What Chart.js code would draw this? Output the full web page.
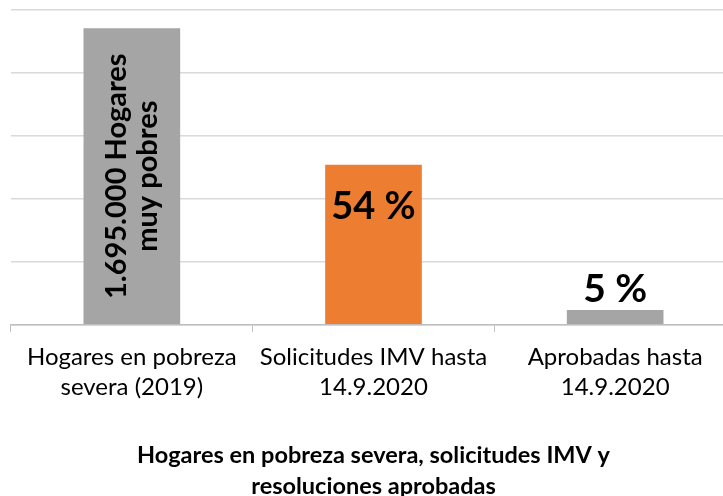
<!DOCTYPE html>
<html>
<head>
<meta charset="utf-8">
<script src="https://cdn.jsdelivr.net/npm/chart.js@4"></script>
<style>
  html, body { margin: 0; padding: 0; background: #fff; overflow: hidden; }
  #wrap { width: 740px; height: 496px; }
</style>
</head>
<body>
<div id="wrap"><canvas id="myChart"></canvas></div>
<script>
// chart data
const categories = [
  ['Hogares en pobreza', 'severa (2019)'],
  ['Solicitudes IMV hasta', '14.9.2020'],
  ['Aprobadas hasta', '14.9.2020']
];
const households = [1695000, 915000, 85000];
const barLabels = [['1.695.000 Hogares', 'muy pobres'], ['54 %'], ['5 %']];
const barColors = ['#a5a5a5', '#ed7d31', '#a5a5a5'];
const yMax = 1800000;
const yStep = 360000;
const titleLines = ['Hogares en pobreza severa, solicitudes IMV y', 'resoluciones aprobadas'];

const FONT = 'Lato, "Noto Sans", sans-serif';

// draws the text on / above the bars
const barText = {
  id: 'barText',
  afterDatasetsDraw(chart) {
    const ctx = chart.ctx;
    const meta = chart.getDatasetMeta(0);
    ctx.save();
    ctx.fillStyle = '#000';
    ctx.textAlign = 'center';
    ctx.textBaseline = 'middle';
    meta.data.forEach((bar, i) => {
      const lines = barLabels[i];
      if (i === 0) {
        ctx.save();
        ctx.translate(bar.x, (bar.y + bar.base) / 2);
        ctx.rotate(-Math.PI / 2);
        ctx.font = 'bold 29px ' + FONT;
        ctx.fillText(lines[0], 0, -15.5);
        ctx.fillText(lines[1], 0, 15.5);
        ctx.restore();
      } else if (i === 1) {
        ctx.font = 'bold 38px ' + FONT;
        ctx.fillText(lines[0], bar.x, bar.y + 42);
      } else {
        ctx.font = 'bold 39px ' + FONT;
        ctx.fillText(lines[0], bar.x, bar.y - 21);
      }
    });
    ctx.restore();
  }
};

const ctx = document.querySelector('#myChart').getContext('2d');
const chart = new Chart(ctx, {
  type: 'bar',
  data: {
    labels: categories,
    datasets: [{
      data: households,
      backgroundColor: barColors,
      barPercentage: 0.4,
      categoryPercentage: 1
    }]
  },
  options: {
    responsive: true,
    maintainAspectRatio: false,
    animation: false,
    layout: { padding: { left: 11, right: 4, top: 10, bottom: -5 } },
    plugins: {
      legend: { display: false },
      tooltip: { enabled: false },
      title: {
        display: true,
        position: 'bottom',
        text: titleLines,
        color: '#000',
        font: { family: FONT, size: 23.5, weight: 'bold', lineHeight: 1.28 },
        padding: { top: 29, bottom: 0 }
      }
    },
    scales: {
      x: {
        grid: {
          offset: true,
          drawOnChartArea: false,
          color: '#bfbfbf',
          tickLength: 7
        },
        border: { color: '#bfbfbf', width: 1.5 },
        ticks: {
          color: '#000',
          font: { family: FONT, size: 24, lineHeight: 1.25 },
          padding: 10,
          maxRotation: 0
        }
      },
      y: {
        min: 0,
        max: yMax,
        ticks: { display: false, stepSize: yStep },
        border: { display: false },
        grid: { color: '#d9d9d9', lineWidth: 1.5, drawTicks: false }
      }
    }
  },
  plugins: [barText]
});
</script>
</body>
</html>
